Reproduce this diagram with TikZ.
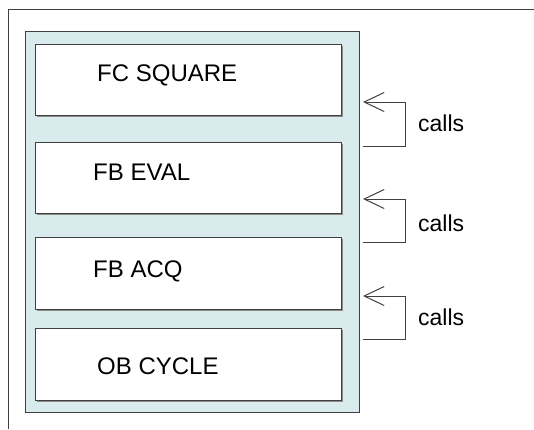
\documentclass[tikz,border=0pt]{standalone}
\usepackage{fontspec}
\setmainfont{Liberation Sans}
\usetikzlibrary{arrows.meta}
\definecolor{panelblue}{HTML}{DAEBED}
\definecolor{frameline}{HTML}{404040}
\definecolor{shadowgray}{HTML}{8C8C8C}
\tikzset{
  frame/.style={draw=frameline, line width=1pt},
  panel/.style={draw=frameline, fill=panelblue, line width=1pt},
  blockshadow/.style={fill=shadowgray, draw=none},
  block/.style={draw=frameline, fill=white, line width=1pt},
  blocklabel/.style={anchor=base west, inner sep=0pt, font=\fontsize{24}{26}\selectfont},
  callslabel/.style={anchor=base west, inner sep=0pt, font=\fontsize{23}{25}\selectfont},
  callarrow/.style={draw=black!75, line width=1pt, -{Straight Barb[length=20pt,width=19pt,line width=1pt]}},
}
\begin{document}
\begin{tikzpicture}[x=1pt, y=-1pt]
  \useasboundingbox (0,0) rectangle (534,429);
  % open frame: only the top and left edges fall inside the page
  \draw[frame] (8.5,429) -- (8.5,9.5) -- (534,9.5);
  % shaded container
  \draw[panel] (25,31) rectangle (359,412);
  % the four program blocks, each with a slight shadow
  \foreach \t/\b in {44/115, 142/213, 237/309, 328/400} {
    \fill[blockshadow] (36.5,\t+1.5) rectangle (342.5,\b+1.5);
    \draw[block] (35,\t) rectangle (341,\b);
  }
  \node[blocklabel] (fcsquare) at (97,81) {FC SQUARE};
  \node[blocklabel] (fbeval) at (93,180) {FB EVAL};
  \node[blocklabel] (fbacq) at (93,277) {FB ACQ};
  \node[blocklabel] (obcycle) at (97,374) {OB CYCLE};
  % call relations
  \coordinate (c1from) at (363,146); \coordinate (c1to) at (363,102);
  \coordinate (c2from) at (363,242); \coordinate (c2to) at (363,199);
  \coordinate (c3from) at (363,339); \coordinate (c3to) at (363,296);
  \draw[callarrow] (c1from) -- ++(42,0) |- (c1to);
  \draw[callarrow] (c2from) -- ++(42,0) |- (c2to);
  \draw[callarrow] (c3from) -- ++(42,0) |- (c3to);
  \node[callslabel] (calls1) at (418,131) {calls};
  \node[callslabel] (calls2) at (418,231) {calls};
  \node[callslabel] (calls3) at (418,325) {calls};
\end{tikzpicture}
\end{document}
